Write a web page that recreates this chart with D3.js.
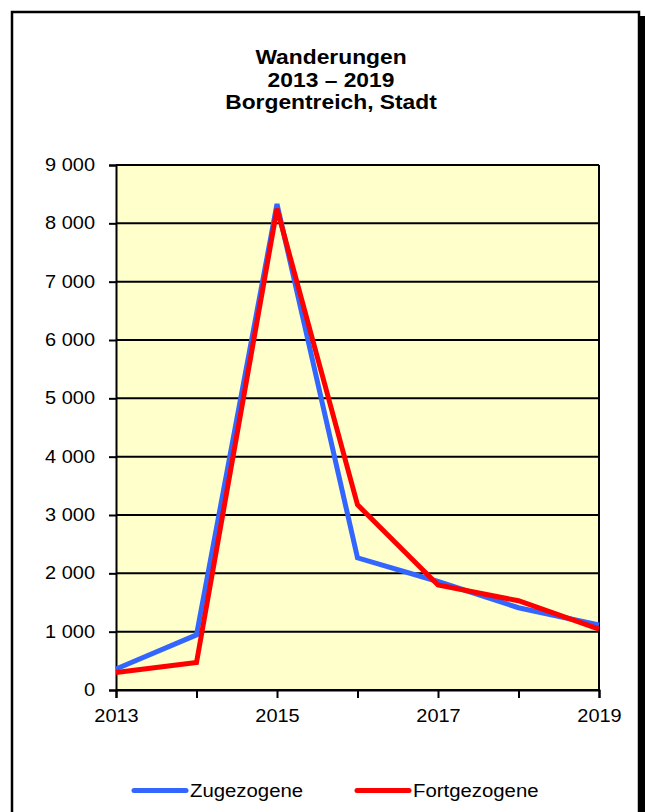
<!DOCTYPE html>
<html>
<head>
<meta charset="utf-8">
<script src="https://cdn.jsdelivr.net/npm/d3@7"></script>
<style>
  body { margin: 0; background: #fff; }
  svg { display: block; font-family: "Liberation Sans", Arial, sans-serif; }
</style>
</head>
<body>
<svg width="645" height="812"></svg>
<script>
// data
const years = [2013, 2014, 2015, 2016, 2017, 2018, 2019];
const zugezogene = [360, 945, 8330, 2265, 1860, 1410, 1115];
const fortgezogene = [300, 470, 8250, 3175, 1800, 1530, 1045];
const yTicks = [0, 1000, 2000, 3000, 4000, 5000, 6000, 7000, 8000, 9000];
const xLabels = [2013, 2015, 2017, 2019];
const titleLines = ['Wanderungen', '2013 \u2013 2019', 'Borgentreich, Stadt'];

// text in the original is a bit wider than it is tall
const sx = 1.14;

const svg = d3.select('svg');

// frame with shadow
svg.append('rect')
  .attr('x', 639).attr('y', 16).attr('width', 6).attr('height', 820)
  .attr('fill', '#000');
svg.append('rect')
  .attr('x', 12).attr('y', 12).attr('width', 627).attr('height', 830)
  .attr('fill', '#fff').attr('stroke', '#000').attr('stroke-width', 2.5);

// title
svg.append('g')
  .selectAll('text')
  .data(titleLines)
  .enter()
  .append('text')
  .attr('transform', (d, i) => `translate(331,${64 + i * 22.5}) scale(1.17,1)`)
  .attr('text-anchor', 'middle')
  .attr('font-weight', 'bold')
  .attr('font-size', 19.5)
  .text(d => d);

const plotL = 116, plotR = 599, plotT = 165, plotB = 690;

const x = d3.scaleLinear().domain([2013, 2019]).range([plotL, plotR]);
const y = d3.scaleLinear().domain([0, 9000]).range([plotB, plotT]);

// plot background
svg.append('rect')
  .attr('x', plotL).attr('y', plotT)
  .attr('width', plotR - plotL).attr('height', plotB - plotT)
  .attr('fill', '#ffffcc');

// grid lines
svg.append('g')
  .selectAll('line')
  .data(yTicks)
  .enter()
  .append('line')
  .attr('x1', plotL).attr('x2', plotR)
  .attr('y1', d => y(d)).attr('y2', d => y(d))
  .attr('stroke', '#000').attr('stroke-width', 2);

// right border
svg.append('line')
  .attr('x1', plotR).attr('x2', plotR)
  .attr('y1', plotT).attr('y2', plotB)
  .attr('stroke', '#000').attr('stroke-width', 2);

// y axis
const fmt = d => d3.format(',')(d).replace(/,/g, ' ');
const yAxis = svg.append('g')
  .attr('transform', `translate(${plotL},0)`)
  .call(d3.axisLeft(y).tickValues(yTicks).tickFormat(fmt).tickSize(7).tickPadding(14));
yAxis.select('.domain').attr('stroke', '#000').attr('stroke-width', 2);
yAxis.selectAll('.tick line').attr('stroke-width', 2);
yAxis.selectAll('text')
  .attr('font-size', 17.5).attr('fill', '#000')
  .attr('font-family', '"Liberation Sans", Arial, sans-serif')
  .attr('x', -21 / sx)
  .attr('transform', `scale(${sx},1)`);

// x axis
const xAxis = svg.append('g')
  .attr('transform', `translate(0,${plotB})`)
  .call(d3.axisBottom(x).tickValues(years)
    .tickFormat(d => xLabels.includes(d) ? d : '')
    .tickSize(8).tickPadding(12));
xAxis.select('.domain').attr('stroke', '#000').attr('stroke-width', 2);
xAxis.selectAll('.tick line').attr('stroke-width', 2);
xAxis.selectAll('text')
  .attr('font-size', 17.5).attr('fill', '#000')
  .attr('font-family', '"Liberation Sans", Arial, sans-serif')
  .attr('transform', `scale(${sx},1)`);

// lines
const line = d3.line()
  .x((d, i) => x(years[i]))
  .y(d => y(d));

svg.append('path')
  .datum(zugezogene)
  .attr('d', line)
  .attr('fill', 'none')
  .attr('stroke', '#3366ff')
  .attr('stroke-width', 5);

svg.append('path')
  .datum(fortgezogene)
  .attr('d', line)
  .attr('fill', 'none')
  .attr('stroke', '#ff0000')
  .attr('stroke-width', 5);

// legend
const legend = [
  { name: 'Zugezogene', color: '#3366ff', x: 134 },
  { name: 'Fortgezogene', color: '#ff0000', x: 357 }
];
const lg = svg.append('g').selectAll('g').data(legend).enter().append('g');
lg.append('line')
  .attr('x1', d => d.x).attr('x2', d => d.x + 52)
  .attr('y1', 790.5).attr('y2', 790.5)
  .attr('stroke', d => d.color)
  .attr('stroke-width', 5)
  .attr('stroke-linecap', 'round');
lg.append('text')
  .attr('transform', d => `translate(${d.x + 56},797) scale(1.1,1)`)
  .attr('font-size', 18.5)
  .text(d => d.name);
</script>
</body>
</html>
